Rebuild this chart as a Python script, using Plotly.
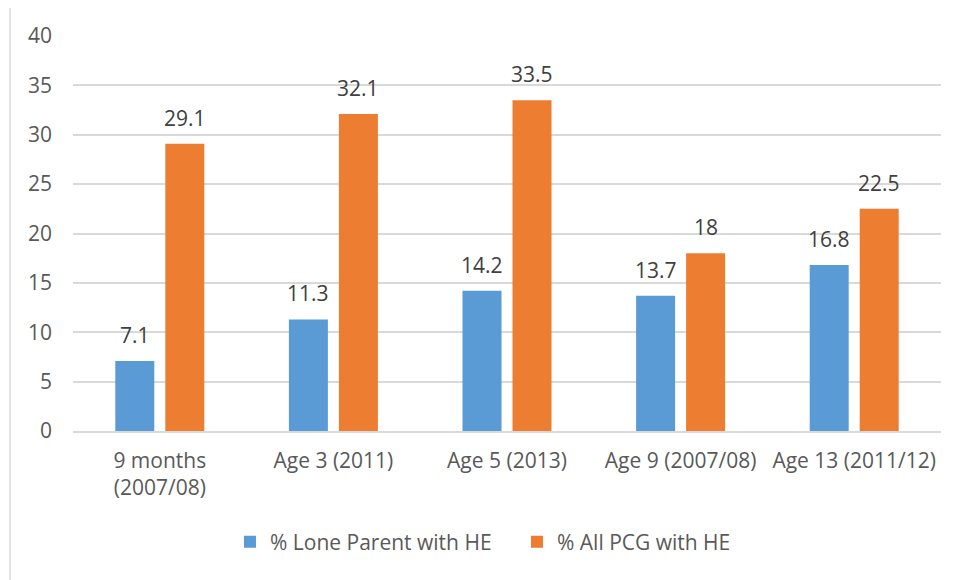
import plotly.graph_objects as go

categories = ["9 months<br>(2007/08)", "Age 3 (2011)", "Age 5 (2013)", "Age 9 (2007/08)", "Age 13 (2011/12)"]
lone_parent = [7.1, 11.3, 14.2, 13.7, 16.8]
all_pcg = [29.1, 32.1, 33.5, 18, 22.5]
series_names = ["% Lone Parent with HE", "% All PCG with HE"]
series_colors = ["#5B9BD5", "#ED7D31"]

FONT = "Open Sans, Liberation Sans, sans-serif"
GRAY = "#595959"
LABEL = "#404040"
FS = 21

fig = go.Figure()
for name, vals, col in zip(series_names, [lone_parent, all_pcg], series_colors):
    fig.add_trace(go.Bar(x=categories, y=vals, name=name, marker_color=col,
                         marker_line_width=0))

# data labels placed above bars (Excel-style gap)
annotations = []
for vals, dx in zip([lone_parent, all_pcg], [-25, 25]):
    for c, v in zip(categories, vals):
        annotations.append(dict(x=c, y=v, xref="x", yref="y", text=str(v),
                                showarrow=False, xshift=dx, yshift=10,
                                yanchor="bottom",
                                font=dict(size=FS, color=LABEL, family=FONT)))

W, H = 950, 572
L, R, T, B = 65, 17, 28, 149
pw, ph = W - L - R, H - T - B

fig.update_layout(
    width=W, height=H,
    margin=dict(l=L, r=R, t=T, b=B),
    paper_bgcolor="white", plot_bgcolor="white",
    barmode="group", bargap=0.424, bargroupgap=0.22,
    font=dict(family=FONT, size=FS, color=GRAY),
    annotations=annotations,
    legend=dict(orientation="h", x=0.5115, xanchor="center", y=-0.281, yanchor="middle",
                font=dict(size=FS, color=GRAY), entrywidth=242, entrywidthmode="pixels"),
    xaxis=dict(showline=True, linecolor="#D9D9D9", linewidth=1.5, ticks="",
               tickfont=dict(size=FS, color=GRAY), ticklabelstandoff=10),
    yaxis=dict(range=[0, 40], dtick=5, showgrid=True, gridcolor="#D9D9D9", gridwidth=1.5,
               zeroline=False, showline=False, ticks="",
               tickfont=dict(size=FS, color=GRAY), ticklabelstandoff=20),
    shapes=[dict(type="rect", xref="paper", yref="paper",
                 x0=-63 / pw, x1=1 + 40 / pw, y0=-(B + 20) / ph, y1=1 + 30 / ph,
                 line=dict(color="#D9D9D9", width=1.5), fillcolor="rgba(0,0,0,0)",
                 layer="below")],
)

fig.write_html("out.html")
